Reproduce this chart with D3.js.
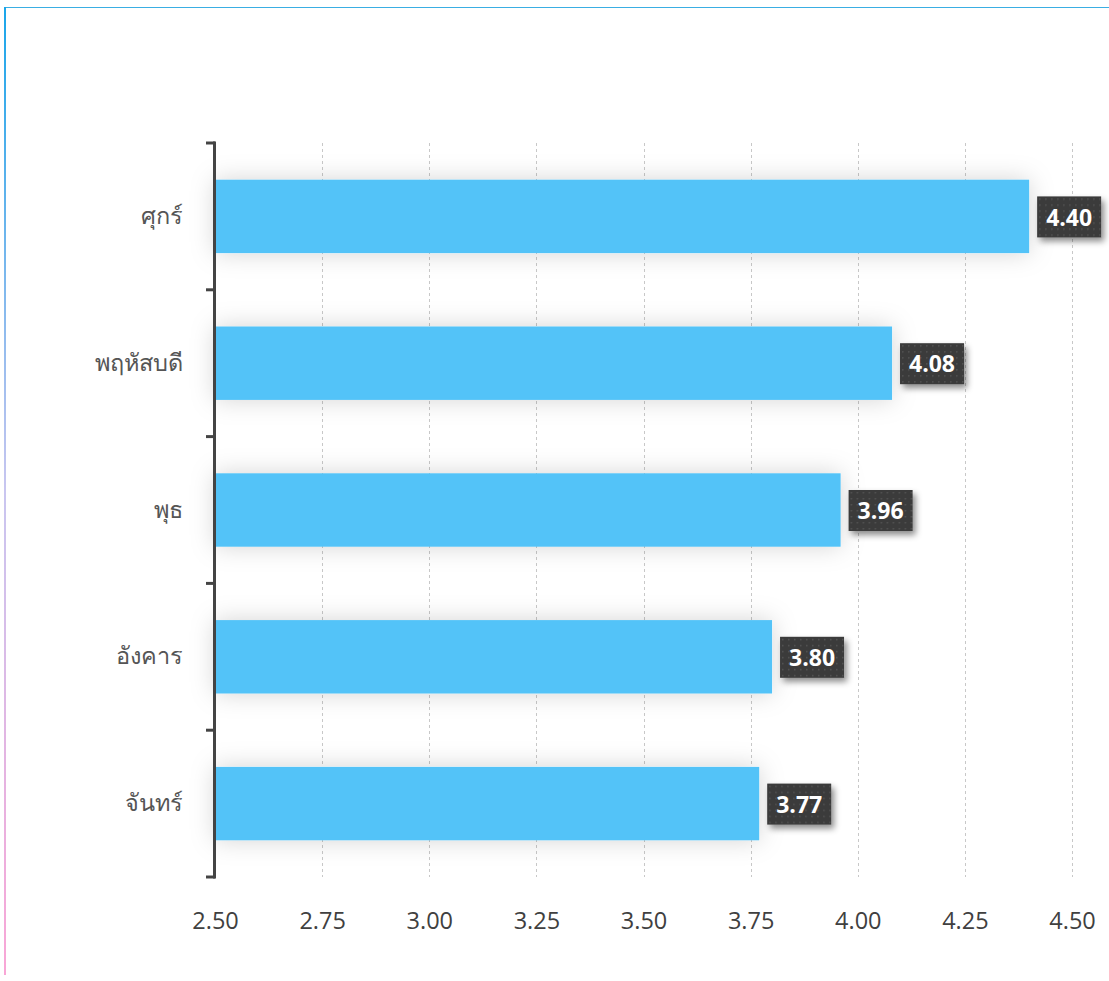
<!DOCTYPE html>
<html><head><meta charset="utf-8">
<script src="https://cdn.jsdelivr.net/npm/d3@7"></script>
<style>body{margin:0;background:#fff;}svg{display:block;}</style>
</head><body>
<svg id="chart" width="1109" height="981"></svg>
<script>
const categories = ["ศุกร์","พฤหัสบดี","พุธ","อังคาร","จันทร์"];
const values = [4.40, 4.08, 3.96, 3.80, 3.77];
const xTicks = [2.50, 2.75, 3.00, 3.25, 3.50, 3.75, 4.00, 4.25, 4.50];

const svg = d3.select("#chart");
const W = 1109, H = 981;
const m = {left: 215, right: 1072, top: 143, bottom: 877};

const defs = svg.append("defs");
const lg = defs.append("linearGradient").attr("id","leftg").attr("x1",0).attr("y1",0).attr("x2",0).attr("y2",1);
lg.append("stop").attr("offset","0%").attr("stop-color","#1aa6ea");
lg.append("stop").attr("offset","50%").attr("stop-color","#c9c6f0");
lg.append("stop").attr("offset","100%").attr("stop-color","#f9a6d6");

const sh = defs.append("filter").attr("id","barsh").attr("x","-20%").attr("y","-80%").attr("width","140%").attr("height","260%");
sh.append("feGaussianBlur").attr("in","SourceAlpha").attr("stdDeviation",12).attr("result","b");
sh.append("feFlood").attr("flood-color","#000").attr("flood-opacity",0.17);
sh.append("feComposite").attr("in2","b").attr("operator","in").attr("result","s");
const mg = sh.append("feMerge");
mg.append("feMergeNode").attr("in","s");
mg.append("feMergeNode").attr("in","SourceGraphic");

const lsh = defs.append("filter").attr("id","labsh").attr("x","-30%").attr("y","-30%").attr("width","170%").attr("height","190%");
lsh.append("feDropShadow").attr("dx",3).attr("dy",4).attr("stdDeviation",3).attr("flood-color","#000").attr("flood-opacity",0.45);

const pat = defs.append("pattern").attr("id","dots").attr("width",6).attr("height",6).attr("patternUnits","userSpaceOnUse");
pat.append("rect").attr("width",6).attr("height",6).attr("fill","#3a3a3a");
pat.append("rect").attr("x",2).attr("y",2).attr("width",1.5).attr("height",1.5).attr("fill","#555");

// frame
svg.append("line").attr("x1",5).attr("x2",W).attr("y1",7.5).attr("y2",7.5).attr("stroke","#3aaee3").attr("stroke-width",1);
svg.append("rect").attr("x",4).attr("y",7).attr("width",2).attr("height",968).attr("fill","url(#leftg)");

const x = d3.scaleLinear().domain([2.5, 4.5]).range([m.left, m.right]);
const y = d3.scaleBand().domain(categories).range([m.top, m.bottom]).paddingInner(0.5).paddingOuter(0.25);
const yb = d3.scaleBand().domain(categories).range([m.top, m.bottom]);

// grid
svg.append("g").selectAll("line").data(xTicks.slice(1)).join("line")
  .attr("x1", d => Math.round(x(d)) + 0.5).attr("x2", d => Math.round(x(d)) + 0.5)
  .attr("y1", m.top).attr("y2", m.bottom)
  .attr("stroke","#c8c8c8").attr("stroke-width",1).attr("stroke-dasharray","3,3");

// bars
svg.append("g").selectAll("rect").data(categories).join("rect")
  .attr("x", x(2.5)).attr("y", d => y(d))
  .attr("width", (d,i) => x(values[i]) - x(2.5)).attr("height", y.bandwidth())
  .attr("fill","#52c3f8").attr("filter","url(#barsh)");

// y axis
const yAxis = d3.axisLeft(yb).tickSize(0).tickPadding(32).tickFormat(d => d);
const gy = svg.append("g").attr("transform", `translate(${m.left},0)`).call(yAxis);
gy.select(".domain").remove();
gy.selectAll("text").attr("font-family","'Noto Sans', 'Open Sans', sans-serif").attr("font-size",23.5).attr("fill","#555");
const bounds = categories.map(c => yb(c)).concat([m.bottom]);
svg.append("g").selectAll("line").data(bounds).join("line")
  .attr("x1", m.left - 9).attr("x2", m.left).attr("y1", d => d).attr("y2", d => d)
  .attr("stroke","#444").attr("stroke-width",3);
svg.append("line").attr("x1", m.left - 0.5).attr("x2", m.left - 0.5).attr("y1", m.top - 1.5).attr("y2", m.bottom + 1.5)
  .attr("stroke","#444").attr("stroke-width",3);

// x axis
const xAxis = d3.axisBottom(x).tickValues(xTicks).tickSize(0).tickPadding(0).tickFormat(d3.format(".2f"));
const gx = svg.append("g").attr("transform", `translate(0,${m.bottom})`).call(xAxis);
gx.select(".domain").remove();
gx.selectAll("text").attr("dy", null).attr("y", 52).attr("font-family","'Open Sans', 'Noto Sans', sans-serif").attr("font-size",23.5).attr("fill","#404040");

// value labels
const lab = svg.append("g").selectAll("g").data(categories).join("g")
  .attr("transform", (d,i) => `translate(${x(values[i]) + 8},${y(d) + y.bandwidth()/2 - 20})`);
lab.append("rect").attr("width",64).attr("height",41).attr("fill","url(#dots)").attr("filter","url(#labsh)");
lab.append("text").attr("x",32).attr("y",21).attr("dy","0.36em").attr("text-anchor","middle")
  .attr("font-family","'Open Sans', 'Noto Sans', sans-serif").attr("font-weight","bold").attr("font-size",23).attr("fill","#fff")
  .text((d,i) => d3.format(".2f")(values[i]));
</script>
</body></html>
